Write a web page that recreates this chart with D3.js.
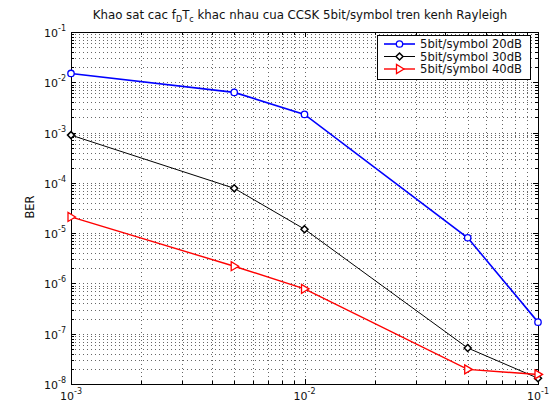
<!DOCTYPE html>
<html>
<head>
<meta charset="utf-8">
<script src="https://cdn.jsdelivr.net/npm/d3@7"></script>
<style>
  body { margin: 0; background: #fff; }
  svg { font-family: "DejaVu Sans", "Liberation Sans", Arial, sans-serif; }
</style>
</head>
<body>
<svg id="chart" width="551" height="403"></svg>
<script>
// Data
const fdTc = [1e-3, 5e-3, 1e-2, 5e-2, 1e-1];
const ber20 = [1.5e-2, 6.3e-3, 2.3e-3, 8.1e-6, 1.7e-7];
const ber30 = [8.9e-4, 7.8e-5, 1.2e-5, 5.2e-8, 1.3e-8];
const ber40 = [2.1e-5, 2.2e-6, 7.8e-7, 1.95e-8, 1.55e-8];
const seriesNames = ['5bit/symbol 20dB', '5bit/symbol 30dB', '5bit/symbol 40dB'];
const xDecades = [-3, -2, -1];
const yDecades = [-8, -7, -6, -5, -4, -3, -2, -1];

const series = [
  { name: seriesNames[0], values: ber20, color: '#0000ff', marker: 'circle', width: 1.6 },
  { name: seriesNames[1], values: ber30, color: '#000000', marker: 'diamond', width: 1 },
  { name: seriesNames[2], values: ber40, color: '#ff0000', marker: 'triangle', width: 1.4 }
];

// Plot area
const plotL = 71, plotR = 538, plotT = 32, plotB = 384;

const svg = d3.select('#chart');

const x = d3.scaleLog().domain([1e-3, 1e-1]).range([plotL, plotR]);
const y = d3.scaleLog().domain([1e-8, 1e-1]).range([plotB, plotT]);

// major and minor positions
function logTicks(lo, hi) {
  const t = [];
  for (let e = lo; e < hi; e++) {
    for (let m = 1; m < 10; m++) t.push({ v: m * Math.pow(10, e), major: m === 1 });
  }
  t.push({ v: Math.pow(10, hi), major: true });
  return t;
}
const xTicks = logTicks(-3, -1);
const yTicks = logTicks(-8, -1);

// Grid (dotted, MATLAB style)
const grid = svg.append('g').attr('stroke', '#666').attr('stroke-width', 1)
  .attr('stroke-dasharray', '1,3');
grid.selectAll('.gx').data(xTicks.filter(d => d.v > 1.0001e-3 && d.v < 0.9999e-1)).enter()
  .append('line')
  .attr('x1', d => Math.round(x(d.v)) + 0.5).attr('x2', d => Math.round(x(d.v)) + 0.5)
  .attr('y1', plotT).attr('y2', plotB);
grid.selectAll('.gy').data(yTicks.filter(d => d.v > 1.0001e-8 && d.v < 0.9999e-1)).enter()
  .append('line')
  .attr('y1', d => Math.round(y(d.v)) + 0.5).attr('y2', d => Math.round(y(d.v)) + 0.5)
  .attr('x1', plotL).attr('x2', plotR);

// Tick marks on all four sides
const tk = svg.append('g').attr('stroke', '#000').attr('stroke-width', 1);
xTicks.forEach(d => {
  const xx = Math.round(x(d.v)) + 0.5;
  const len = d.major ? 5 : 3;
  tk.append('line').attr('x1', xx).attr('x2', xx).attr('y1', plotB).attr('y2', plotB - len);
  tk.append('line').attr('x1', xx).attr('x2', xx).attr('y1', plotT).attr('y2', plotT + len);
});
yTicks.forEach(d => {
  const yy = Math.round(y(d.v)) + 0.5;
  const len = d.major ? 5 : 3;
  tk.append('line').attr('y1', yy).attr('y2', yy).attr('x1', plotL).attr('x2', plotL + len);
  tk.append('line').attr('y1', yy).attr('y2', yy).attr('x1', plotR).attr('x2', plotR - len);
});

// Box
svg.append('rect')
  .attr('x', plotL + 0.5).attr('y', plotT + 0.5)
  .attr('width', plotR - plotL).attr('height', plotB - plotT)
  .attr('fill', 'none').attr('stroke', '#000');

// Tick labels 10^n
function powLabel(g, px, py, e, anchor) {
  const t = g.append('text').attr('x', px).attr('y', py)
    .attr('font-size', 11).attr('fill', '#111').attr('text-anchor', anchor);
  t.append('tspan').text('10');
  t.append('tspan').attr('dy', -6).attr('font-size', 8).text(e);
}
const lab = svg.append('g');
xDecades.forEach(e => powLabel(lab, x(Math.pow(10, e)), 400, e, 'middle'));
yDecades.forEach(e => powLabel(lab, plotL - 5, y(Math.pow(10, e)) + 5, e, 'end'));

// Y label
svg.append('text')
  .attr('transform', `translate(34, 207) rotate(-90)`)
  .attr('text-anchor', 'middle').attr('font-size', 11.5).attr('fill', '#111').text('BER');

// Title with subscripts
const title = svg.append('text').attr('x', 300).attr('y', 19)
  .attr('text-anchor', 'middle').attr('font-size', 11.8).attr('fill', '#111');
title.append('tspan').text('Khao sat cac f');
title.append('tspan').attr('dy', 3).attr('font-size', 8).text('D');
title.append('tspan').attr('dy', -3).text('T');
title.append('tspan').attr('dy', 3).attr('font-size', 8).text('c');
title.append('tspan').attr('dy', -3).text(' khac nhau cua CCSK 5bit/symbol tren kenh Rayleigh');

// Markers
function drawMarker(g, kind, color, cx, cy) {
  if (kind === 'circle') {
    g.append('circle').attr('cx', cx).attr('cy', cy).attr('r', 3.2)
      .attr('fill', '#fff').attr('stroke', color).attr('stroke-width', 1.3);
  } else if (kind === 'diamond') {
    g.append('path')
      .attr('d', `M${cx},${cy - 3.5}L${cx + 3.5},${cy}L${cx},${cy + 3.5}L${cx - 3.5},${cy}Z`)
      .attr('fill', '#fff').attr('stroke', color).attr('stroke-width', 1.5);
  } else {
    g.append('path')
      .attr('d', `M${cx + 4.5},${cy}L${cx - 3},${cy - 4.5}L${cx - 3},${cy + 4.5}Z`)
      .attr('fill', '#fff').attr('stroke', color).attr('stroke-width', 1.3);
  }
}

const line = d3.line().x(d => x(d[0])).y(d => y(d[1]));
const plot = svg.append('g');
series.forEach(s => {
  const pts = fdTc.map((v, i) => [v, s.values[i]]);
  plot.append('path').datum(pts).attr('d', line)
    .attr('fill', 'none').attr('stroke', s.color).attr('stroke-width', s.width);
});
series.forEach(s => {
  fdTc.forEach((v, i) => drawMarker(plot, s.marker, s.color, x(v), y(s.values[i])));
});

// Legend
const lg = svg.append('g');
lg.append('rect').attr('x', 377.5).attr('y', 35.5).attr('width', 153).attr('height', 44)
  .attr('fill', '#fff').attr('stroke', '#000');
series.forEach((s, i) => {
  const ly = 44 + i * 12.5;
  lg.append('line').attr('x1', 384).attr('x2', 415).attr('y1', ly).attr('y2', ly)
    .attr('stroke', s.color).attr('stroke-width', s.width);
  drawMarker(lg, s.marker, s.color, 399.5, ly);
  lg.append('text').attr('x', 420).attr('y', ly + 4).attr('font-size', 11.6)
    .attr('fill', '#111').text(s.name);
});
</script>
</body>
</html>
